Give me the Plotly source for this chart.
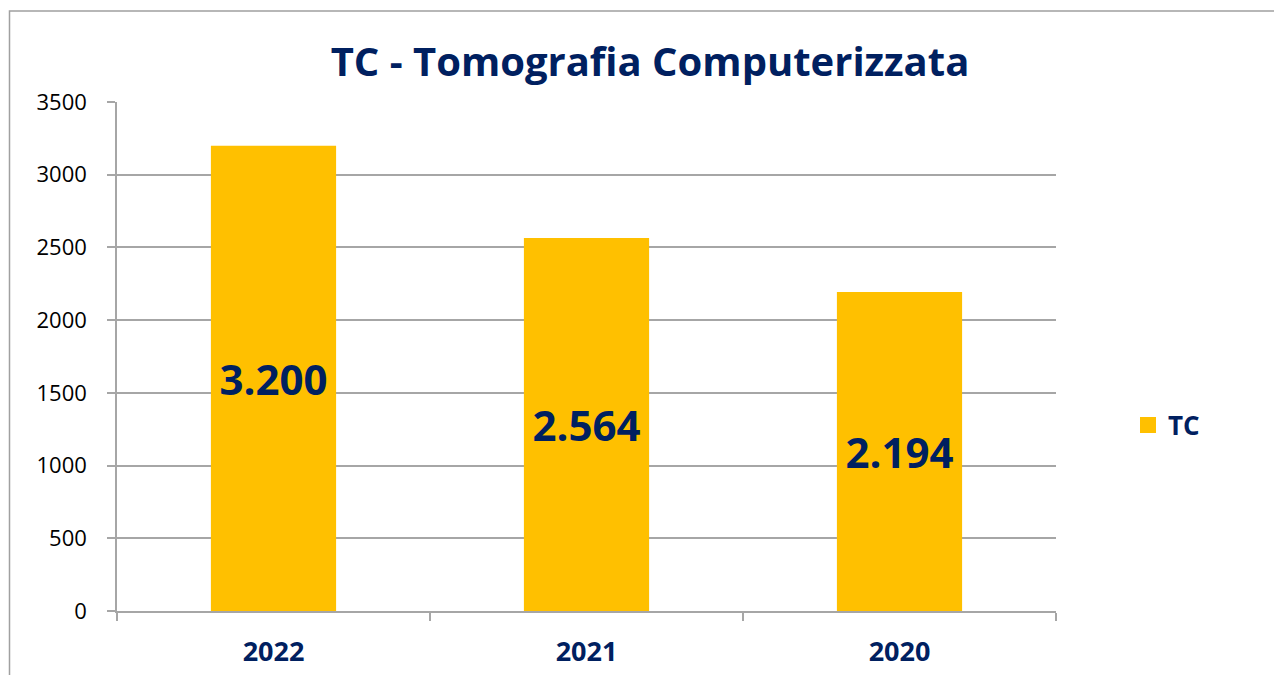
import plotly.graph_objects as go

categories = ["2022", "2021", "2020"]
values = [3200, 2564, 2194]
value_labels = ["3.200", "2.564", "2.194"]
series_name = "TC"
title_text = "TC - Tomografia Computerizzata"

navy = "#002060"
bar_color = "#FFC000"
grid_color = "#A6A6A6"

# page body has an 8px margin; work in screen pixels and convert
OFF = 8
W, H = 1282, 675
PL, PR, PT, PB = 117, 1056, 102, 611  # plot area in screen px
L = PL - OFF
T = PT - OFF
R = W - (PR - OFF)
B = H - (PB - OFF)
pw, ph = PR - PL, PB - PT


def px_x(p):
    return (p - PL) / pw


def px_y(p):
    return (PB - p) / ph


fig = go.Figure()
fig.add_trace(go.Bar(
    x=categories, y=values, name=series_name,
    marker=dict(color=bar_color, line=dict(width=0)),
    width=0.4,
    text=value_labels, textposition="inside", insidetextanchor="middle",
    textangle=0,
    textfont=dict(family="Open Sans", size=42, color=navy, weight="bold"),
    showlegend=False,
))
# legend entry with a larger square swatch
fig.add_trace(go.Scatter(
    x=[None], y=[None], mode="markers", name=series_name,
    marker=dict(symbol="square", size=18, color=bar_color),
    showlegend=True,
))

fig.update_layout(
    width=W, height=H,
    margin=dict(l=L, r=R, t=T, b=B, pad=0),
    paper_bgcolor="white", plot_bgcolor="white",
    title=dict(text=f"<b>{title_text}</b>", x=(650 - OFF) / W, xanchor="center",
               y=1 - (62 - OFF) / H, yanchor="middle",
               font=dict(family="Open Sans", size=40, color=navy)),
    xaxis=dict(
        showline=True, linecolor=grid_color, linewidth=1.5,
        ticks="outside", tickcolor=grid_color, ticklen=8, tickwidth=1.5,
        tickson="boundaries", showgrid=False,
        ticklabelstandoff=16,
        tickfont=dict(family="Open Sans", size=27, color=navy, weight="bold"),
        range=[-0.5, 2.5],
    ),
    yaxis=dict(
        range=[0, 3500], dtick=500, tick0=0,
        showgrid=True, gridcolor=grid_color, gridwidth=1.5,
        showline=True, linecolor=grid_color, linewidth=1.5,
        ticks="outside", tickcolor=grid_color, ticklen=8, tickwidth=1.5,
        ticklabelstandoff=16,
        tickfont=dict(family="Open Sans", size=22, color="black"),
        zeroline=False,
    ),
    legend=dict(
        x=px_x(1128), y=px_y(425), xanchor="left", yanchor="middle",
        font=dict(family="Open Sans", size=26, color=navy, weight="bold"),
        bgcolor="rgba(0,0,0,0)",
    ),
    showlegend=True,
)

fig.add_shape(type="path", xref="paper", yref="paper",
              path=f"M {px_x(9.5)} {px_y(720)} L {px_x(9.5)} {px_y(11)} L {px_x(1300)} {px_y(11)}",
              line=dict(color="#A0A0A0", width=1.5), layer="below")

fig.write_html("out.html")
